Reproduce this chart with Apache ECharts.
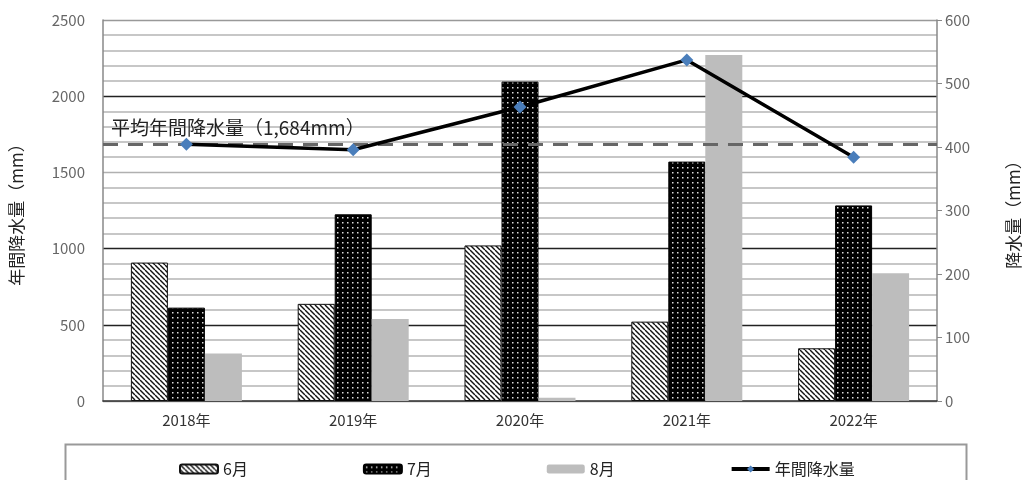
<!DOCTYPE html>
<html>
<head>
<meta charset="utf-8">
<script src="https://cdn.jsdelivr.net/npm/echarts@6/dist/echarts.min.js"></script>
<style>
  html, body { margin: 0; padding: 0; background: #fff; }
  #main { width: 1030px; height: 480px; }
</style>
</head>
<body>
<div id="main"></div>
<script>
// data
const years = ['2018年', '2019年', '2020年', '2021年', '2022年']
const june = [218, 153, 245, 125, 83]
const july = [147, 294, 503, 377, 308]
const august = [75, 129, 5, 545, 201]
const annual = [1685, 1649, 1929, 2238, 1599]
const avgAnnual = 1684

const font = '"Noto Sans CJK JP", "Noto Sans", sans-serif'

// hatch fill for 6月
function hatchPattern () {
  const s = 5
  const c = document.createElement('canvas')
  c.width = s; c.height = s
  const ctx = c.getContext('2d')
  ctx.fillStyle = '#fff'
  ctx.fillRect(0, 0, s, s)
  ctx.strokeStyle = '#111'
  ctx.lineWidth = 1.4
  for (let k = -1; k <= 1; k++) {
    ctx.beginPath()
    ctx.moveTo(k * s, 0)
    ctx.lineTo(k * s + s, s)
    ctx.stroke()
  }
  return c
}

// black with white dots for 7月
function dotPattern () {
  const c = document.createElement('canvas')
  c.width = 5; c.height = 5
  const ctx = c.getContext('2d')
  ctx.fillStyle = '#000'
  ctx.fillRect(0, 0, 5, 5)
  ctx.fillStyle = '#ddd'
  ctx.fillRect(2, 2, 1.5, 1.5)
  return c
}

const chart = echarts.init(document.getElementById('main'))

const option = {
  animation: false,
  backgroundColor: '#fff',
  textStyle: { fontFamily: font },
  grid: { left: 100, right: 82, top: 20, bottom: 79 },
  graphic: [
    {
      // legend frame
      type: 'rect',
      left: 63,
      top: 442,
      shape: { width: 901, height: 60 },
      style: { fill: 'none', stroke: '#999', lineWidth: 2 }
    }
  ],
  legend: {
    data: [
      '6月', '7月', '8月',
      { name: '年間降水量', lineStyle: { width: 4, color: '#000' } }
    ],
    left: 174,
    top: 456,
    itemWidth: 38,
    itemHeight: 9,
    itemGap: 115,
    textStyle: { fontSize: 16, color: '#222', fontFamily: font }
  },
  xAxis: {
    type: 'category',
    data: years,
    axisLine: { lineStyle: { color: '#333', width: 1.5 } },
    axisTick: { inside: true, length: 5, lineStyle: { color: '#555' } },
    axisLabel: { fontSize: 15, color: '#333', margin: 12 }
  },
  yAxis: [
    {
      type: 'value',
      min: 0,
      max: 2500,
      interval: 500,
      name: '年間降水量（mm）',
      nameLocation: 'middle',
      nameGap: 78,
      nameRotate: 90,
      nameTextStyle: { fontSize: 17, color: '#222' },
      axisLine: { show: true, lineStyle: { color: '#888', width: 1.5 } },
      axisTick: { show: false },
      axisLabel: { fontSize: 15, color: '#666', margin: 18, formatter: v => String(v) },
      splitLine: {
        lineStyle: { color: ['#999', '#222', '#222', '#b0b0b0', '#222', '#999'], width: 1.3 }
      },
      minorTick: { show: false, splitNumber: 5 },
      minorSplitLine: { show: true, lineStyle: { color: '#b5b5b5', width: 1.5 } }
    },
    {
      type: 'value',
      min: 0,
      max: 600,
      interval: 100,
      name: '降水量（mm）',
      nameLocation: 'middle',
      nameGap: 68,
      nameRotate: 90,
      nameTextStyle: { fontSize: 17, color: '#222' },
      axisLine: { show: true, lineStyle: { color: '#888', width: 1.5 } },
      axisTick: { show: true, length: 5, lineStyle: { color: '#888' } },
      axisLabel: { fontSize: 15, color: '#666', margin: 8 },
      splitLine: { show: false }
    }
  ],
  series: [
    {
      name: '6月',
      type: 'bar',
      yAxisIndex: 1,
      data: june,
      barWidth: 37,
      barGap: '0%',
      itemStyle: {
        color: { image: hatchPattern(), repeat: 'repeat' },
        borderColor: '#111',
        borderWidth: 1
      }
    },
    {
      name: '7月',
      type: 'bar',
      yAxisIndex: 1,
      data: july,
      barWidth: 37,
      barGap: '0%',
      itemStyle: {
        color: { image: dotPattern(), repeat: 'repeat' },
        borderColor: '#000',
        borderWidth: 1
      }
    },
    {
      name: '8月',
      type: 'bar',
      yAxisIndex: 1,
      data: august,
      barWidth: 37,
      barGap: '0%',
      itemStyle: { color: '#bdbdbd' }
    },
    {
      name: '年間降水量',
      type: 'line',
      yAxisIndex: 0,
      data: annual,
      z: 5,
      symbol: 'diamond',
      symbolSize: 13,
      lineStyle: { color: '#000', width: 3.5 },
      itemStyle: { color: '#4a7ebb' },
      markLine: {
        silent: true,
        symbol: 'none',
        data: [{ yAxis: avgAnnual }],
        lineStyle: { color: '#666', width: 3, type: [15, 10] },
        label: {
          position: 'insideStartTop',
          formatter: '平均年間降水量（1,684mm）',
          fontSize: 19,
          color: '#222',
          distance: [8, 7]
        }
      }
    }
  ]
}

option && chart.setOption(option)
</script>
</body>
</html>
